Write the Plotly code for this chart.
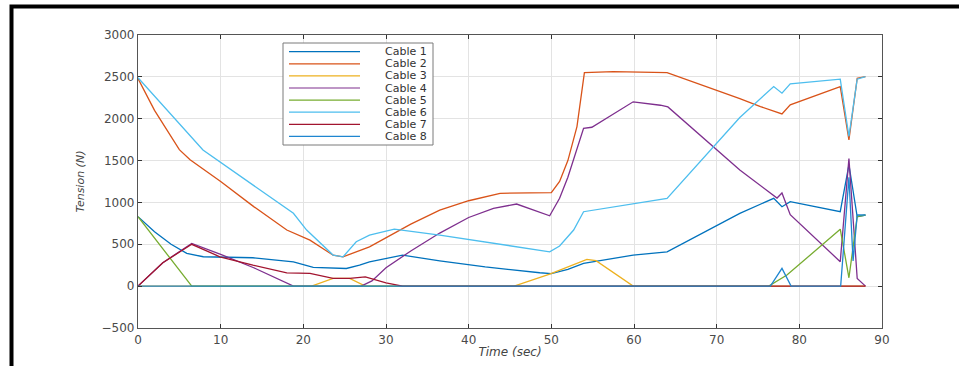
import plotly.graph_objects as go

# ---------------- data ----------------
cable_names = ["Cable 1", "Cable 2", "Cable 3", "Cable 4",
               "Cable 5", "Cable 6", "Cable 7", "Cable 8"]
cable_colors = ["#0072BD", "#D95319", "#EDB120", "#7E2F8E",
                "#77AC30", "#4DBEEE", "#A2142F", "#1f86d0"]

t_c1 = [0, 2, 4, 5.9, 7.9, 13.9, 18.8, 21.2, 25.2, 26.8, 28, 32, 36.5, 42, 48.6, 50, 52, 53.9,
        59.9, 64, 72.8, 76.9, 77.9, 78.9, 84.95, 86, 87, 88]
v_c1 = [830, 650, 500, 391, 351, 339, 291, 224, 211, 251, 291, 370, 303, 230, 160, 150, 200, 271,
        371, 410, 870, 1049, 949, 1009, 889, 1450, 829, 849]

t_c2 = [0, 2, 5, 6.3, 10, 14, 18, 20.8, 23.6, 24.8, 28, 30, 33, 36.5, 40, 43.8, 50, 51, 52, 53.1,
        54, 57.5, 64, 72.8, 75.3, 77.9, 78.9, 84.95, 86, 87, 88]
v_c2 = [2480, 2100, 1630, 1510, 1250, 950, 670, 550, 370, 350, 470, 580, 740, 909, 1020, 1109,
        1116, 1250, 1500, 1906, 2551, 2563, 2551, 2240, 2145, 2057, 2165, 2384, 1746, 2484, 2503]

t_c3 = [0, 21, 23.6, 25.6, 27.5, 45.5, 49.8, 54.3, 55.4, 59.9, 88]
v_c3 = [0, 0, 92, 92, 0, 0, 144, 319, 305, 0, 0]

t_c4 = [0, 3, 6.5, 10, 14, 18.8, 27, 28.3, 30, 33, 36.5, 40, 43, 45.8, 49.8, 51, 52, 53,
        53.9, 54.9, 59.9, 63.2, 64.1, 72.8, 77.3, 77.9, 78.5, 78.9, 84.95, 86, 87, 88]
v_c4 = [0, 280, 510, 380, 220, 0, 0, 63, 220, 420, 634, 820, 930, 981, 841, 1050, 1300, 1600,
        1886, 1898, 2202, 2161, 2141, 1388, 1052, 1112, 952, 853, 292, 1525, 92, 0]

t_c5 = [0, 6.5, 76.3, 78.5, 84.95, 86, 87, 88]
v_c5 = [830, 0, 0, 132, 680, 100, 830, 850]

t_c6 = [0, 7.86, 18.8, 20.4, 23.6, 24.8, 26.4, 28, 31, 36.5, 49.8, 51, 52.7, 53.9, 64, 72.8,
        76.9, 77.9, 78.9, 84.95, 86, 87, 88]
v_c6 = [2490, 1627, 870, 670, 371, 350, 530, 610, 680, 610, 410, 480, 670, 889, 1049, 2015,
        2384, 2305, 2416, 2472, 1790, 2472, 2503]

t_c7 = [0, 3, 6.5, 9.9, 13.9, 18, 20.8, 23.6, 25.6, 27.5, 30, 32, 88]
v_c7 = [0, 280, 500, 351, 251, 159, 152, 92, 92, 110, 40, 0, 0]

t_c8 = [0, 76.5, 77.9, 79, 85, 86, 86.5, 87, 88]
v_c8 = [0, 0, 212, 0, 0, 1300, 300, 850, 850]

x_ticks = [0, 10, 20, 30, 40, 50, 60, 70, 80, 90]
y_ticks = [-500, 0, 500, 1000, 1500, 2000, 2500, 3000]

series_t = [t_c1, t_c2, t_c3, t_c4, t_c5, t_c6, t_c7, t_c8]
series_v = [v_c1, v_c2, v_c3, v_c4, v_c5, v_c6, v_c7, v_c8]

# ---------------- figure ----------------
fig = go.Figure()
for name, col, tt, vv in zip(cable_names, cable_colors, series_t, series_v):
    fig.add_trace(go.Scatter(x=tt, y=vv, mode="lines", name=name,
                             line=dict(color=col, width=1.3), showlegend=False))

tick_font = dict(family="DejaVu Sans", size=12, color="#4a4a4a")
fig.update_layout(
    width=959, height=366,
    margin=dict(l=138, r=77, t=35, b=38),
    paper_bgcolor="white", plot_bgcolor="white",
    xaxis=dict(range=[0, 90], tickvals=x_ticks, showgrid=True, gridcolor="#e3e3e3",
               zeroline=False, showline=True, linecolor="#555555", linewidth=1.2,
               mirror="ticks", ticks="inside", ticklen=4, tickcolor="#333333",
               tickfont=tick_font, automargin=False,
               title=dict(text="<i>Time (sec)</i>", font=dict(family="DejaVu Sans", size=12,
                                                              color="#444444"), standoff=2)),
    yaxis=dict(range=[-500, 3000], tickvals=y_ticks, showgrid=True, gridcolor="#e3e3e3",
               zeroline=False, showline=True, linecolor="#555555", linewidth=1.2,
               mirror="ticks", ticks="inside", ticklen=4, tickcolor="#333333",
               tickfont=tick_font, automargin=False,
               title=dict(text="<i>Tension (N)</i>", font=dict(family="DejaVu Sans", size=11,
                                                               color="#444444"), standoff=14)),
)

# ---------------- manual MATLAB-style legend ----------------
def px_x(px):
    return (px - 138) / 744.0

def px_y(py):
    return (328 - py) / 293.0

fig.add_shape(type="rect", xref="paper", yref="paper",
              x0=px_x(283), x1=px_x(433), y0=px_y(145), y1=px_y(43),
              line=dict(color="#7a7a7a", width=1), fillcolor="white", layer="above")
row_y = [51.7, 63.8, 75.9, 88.0, 100.1, 112.2, 124.3, 136.4]
for name, col, ry in zip(cable_names, cable_colors, row_y):
    fig.add_shape(type="line", xref="paper", yref="paper",
                  x0=px_x(289), x1=px_x(360), y0=px_y(ry), y1=px_y(ry),
                  line=dict(color=col, width=1.2), layer="above")
    fig.add_annotation(xref="paper", yref="paper", x=px_x(428), y=px_y(ry),
                       text=name, showarrow=False, xanchor="right", yanchor="middle",
                       borderpad=0,
                       font=dict(family="DejaVu Sans", size=11, color="#333333"))

# ---------------- black page frame (partial, as cropped) ----------------
fig.add_shape(type="rect", xref="paper", yref="paper",
              x0=px_x(11.5), x1=px_x(1100), y0=px_y(500), y1=px_y(6.5),
              line=dict(color="black", width=4), fillcolor="rgba(0,0,0,0)")

fig.write_html("out.html", config={"displayModeBar": False},
               post_script="document.body.style.margin='0';"
                           "document.body.style.overflow='hidden';")
